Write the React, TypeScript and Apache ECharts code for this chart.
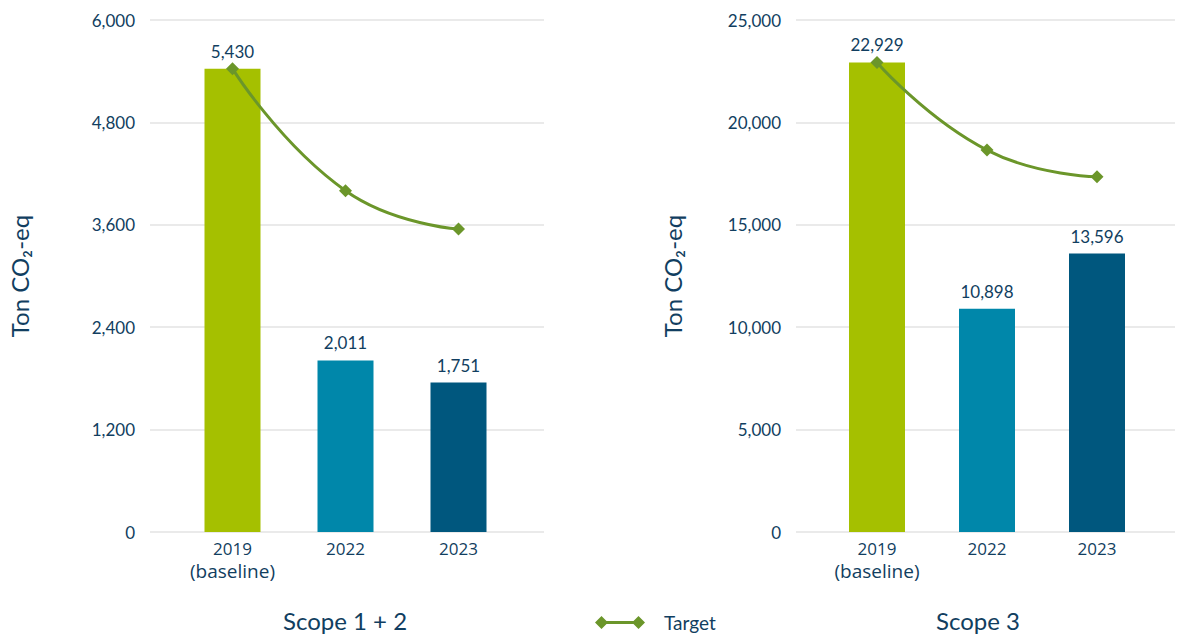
import React, { useEffect, useRef } from "react";
import * as echarts from "echarts";

const categories = ["2019\n(baseline)", "2022", "2023"];
const scope12Values = [5430, 2011, 1751];
const scope12Target = [5430, 4000, 3550];
const scope3Values = [22929, 10898, 13596];
const scope3Target = [22929, 18650, 17350];
const barColors = ["#a5c000", "#0087aa", "#00577e"];
const scope12Axis = { min: 0, max: 6000, interval: 1200 };
const scope3Axis = { min: 0, max: 25000, interval: 5000 };

const TEXT = "#113e60";
const LINE = "#6b962a";
const FONT = "Lato";

const fmt = (v: number) => Math.round(v).toLocaleString("en-US");

export default function App() {
  const ref = useRef<HTMLDivElement>(null);
  useEffect(() => {
    const chart = echarts.init(ref.current!, undefined, { renderer: "svg" });
    const gridAxisY = (idx: number, ax: any, nameGap: number) => ({
      type: "value",
      gridIndex: idx,
      min: ax.min,
      max: ax.max,
      interval: ax.interval,
      name: "Ton CO₂-eq",
      nameLocation: "middle",
      nameRotate: 90,
      nameGap,
      nameTextStyle: { color: TEXT, fontSize: 24, fontFamily: FONT },
      axisLine: { show: false },
      axisTick: { show: false },
      axisLabel: {
        color: TEXT,
        fontSize: 17,
        fontFamily: FONT,
        margin: 15,
        formatter: (v: number) => fmt(v),
      },
      splitLine: { lineStyle: { color: "#e3e3e3", width: 1.5 } },
    });
    const barAxisY = (idx: number, ax: any) => ({
      type: "value",
      gridIndex: idx,
      min: ax.min,
      max: ax.max,
      interval: ax.interval,
      show: false,
      splitLine: { show: false },
    });
    const catAxis = (idx: number) => ({
      type: "category",
      gridIndex: idx,
      data: categories,
      axisLine: { show: false },
      axisTick: { show: false },
      axisLabel: {
        color: TEXT,
        fontFamily: "Open Sans",
        margin: 5,
        formatter: (v: string) =>
          v
            .split("\n")
            .map((s, i) => (i === 0 ? `{a|${s}}` : `{b|${s}}`))
            .join("\n"),
        rich: {
          a: { fontSize: 17, fontFamily: "Open Sans", color: TEXT, lineHeight: 22 },
          b: { fontSize: 19, fontFamily: "Open Sans", color: TEXT, lineHeight: 24 },
        },
      },
    });
    const bars = (axisIdx: number, values: number[]) => ({
      type: "bar",
      xAxisIndex: axisIdx,
      yAxisIndex: axisIdx,
      barWidth: 56,
      data: values.map((v, i) => ({ value: v, itemStyle: { color: barColors[i] } })),
      label: {
        show: true,
        position: "top",
        distance: 9,
        color: TEXT,
        fontSize: 17,
        fontFamily: FONT,
        formatter: (p: any) => fmt(p.value),
      },
    });
    const target = (axisIdx: number, values: number[]) => ({
      type: "line",
      name: "Target",
      xAxisIndex: axisIdx,
      yAxisIndex: axisIdx,
      data: values,
      smooth: 0.5,
      symbol: "diamond",
      symbolSize: 13,
      color: LINE,
      itemStyle: { color: LINE },
      lineStyle: { color: LINE, width: 3 },
      z: 5,
    });
    chart.setOption({
      animation: false,
      backgroundColor: "#ffffff",
      grid: [
        { left: 150, top: 20, width: 394, height: 512 },
        { left: 176, top: 20, width: 339, height: 512 },
        { left: 796, top: 20, width: 379, height: 512 },
        { left: 822, top: 20, width: 330, height: 512 },
      ],
      xAxis: [
        { type: "value", gridIndex: 0, show: false },
        catAxis(1),
        { type: "value", gridIndex: 2, show: false },
        catAxis(3),
      ],
      yAxis: [
        gridAxisY(0, scope12Axis, 119),
        barAxisY(1, scope12Axis),
        gridAxisY(2, scope3Axis, 112),
        barAxisY(3, scope3Axis),
      ],
      legend: {
        data: ["Target"],
        left: 595,
        top: 613,
        padding: 0,
        itemWidth: 50,
        itemHeight: 13,
        icon: "path://M0,6.5 L6.5,0 L13,6.5 L6.5,13 Z M11,5 L39,5 L39,8 L11,8 Z M37,6.5 L43.5,0 L50,6.5 L43.5,13 Z",
        textStyle: { color: TEXT, fontSize: 19, fontFamily: FONT, padding: [0, 0, 0, 14] },
      },
      graphic: [
        {
          type: "text",
          x: 345,
          y: 620,
          style: {
            text: "Scope 1 + 2",
            fill: TEXT,
            fontSize: 24,
            fontFamily: FONT,
            align: "center",
            verticalAlign: "middle",
          },
        },
        {
          type: "text",
          x: 978,
          y: 620,
          style: {
            text: "Scope 3",
            fill: TEXT,
            fontSize: 24,
            fontFamily: FONT,
            align: "center",
            verticalAlign: "middle",
          },
        },
      ],
      series: [
        bars(1, scope12Values),
        target(1, scope12Target),
        bars(3, scope3Values),
        target(3, scope3Target),
      ],
    });
    return () => chart.dispose();
  }, []);
  return (
    <div
      ref={ref}
      style={{ position: "fixed", left: 0, top: 0, width: 1186, height: 634 }}
    />
  );
}
